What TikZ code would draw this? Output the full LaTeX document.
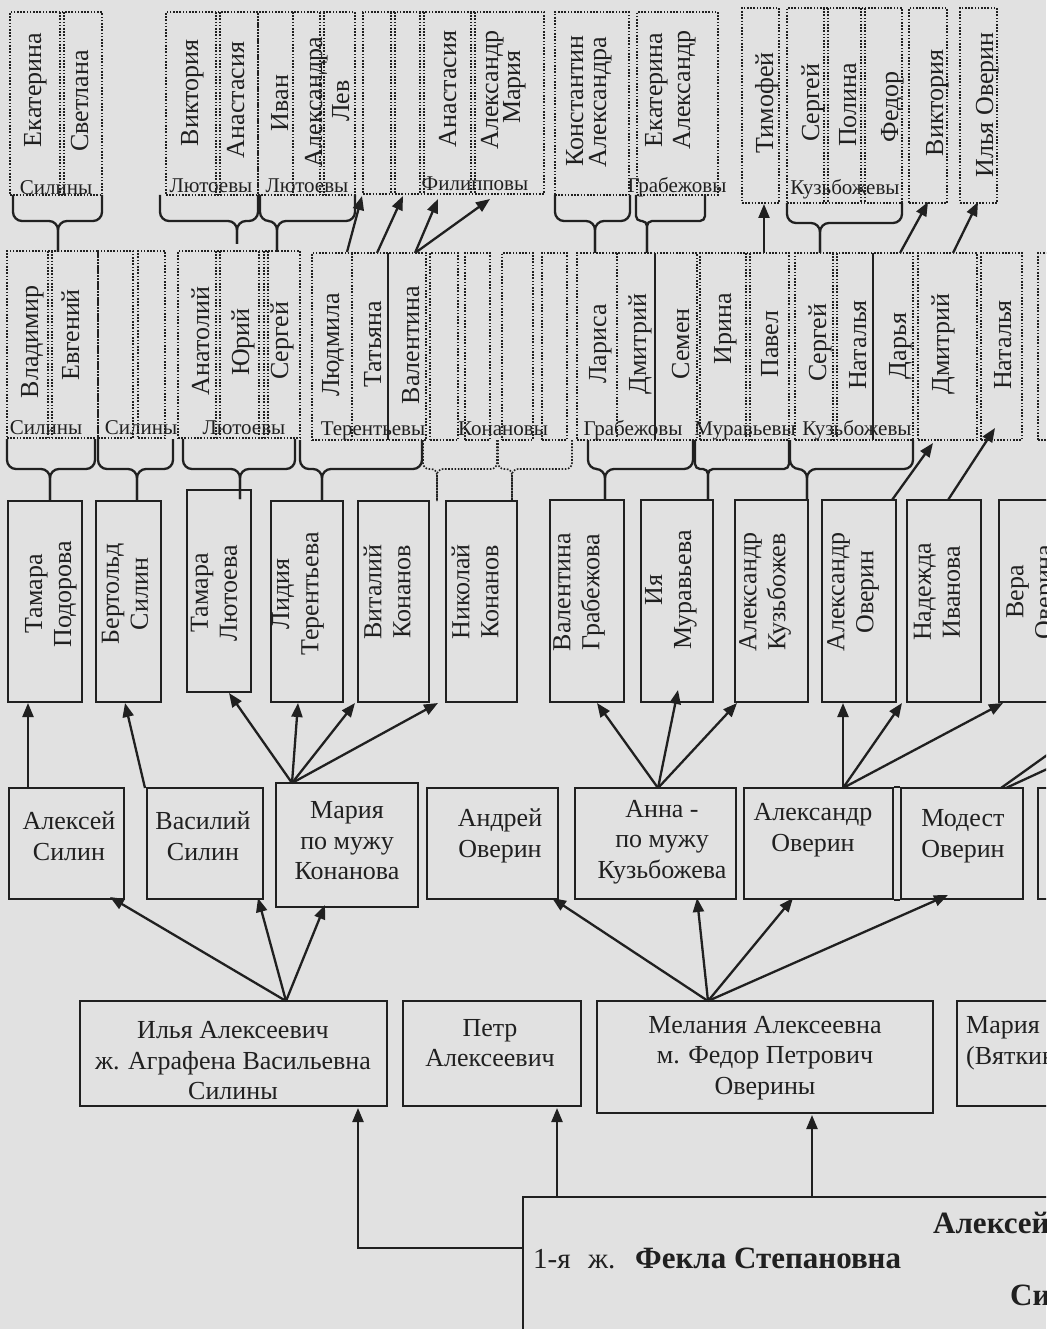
\documentclass[tikz,border=0pt]{standalone}
\usepackage{fontspec}
\setmainfont{Liberation Serif}
\usetikzlibrary{fit,arrows.meta}
\definecolor{inkc}{HTML}{202020}
\definecolor{paper}{HTML}{E1E1E1}
\newcounter{tn}
\newcommand\vnm[3]{\stepcounter{tn}\node[vname] (v\thetn) at (#1,#2) {#3};}
\newcommand\famlab[3]{\stepcounter{tn}\node[fam] (f\thetn) at (#1,#2) {#3};}
\newcommand\dgrp[5]{\node[dbox, fit={(#2,#3)(#4,#5)}] (#1) {};}
\newcommand\sbx[5]{\node[sbox, fit={(#2,#3)(#4,#5)}] (#1) {};}
\newcommand\sdiv[3]{\draw[dline] (#1,#2) -- (#1,#3);}
\newcommand\ddiv[3]{\draw[dline] (#1-1.9,#2) -- (#1-1.9,#3); \draw[dline] (#1+1.9,#2) -- (#1+1.9,#3);}
\newcommand\tdiv[3]{\draw[tline] (#1,#2) -- (#1,#3);}
\newcommand\cbr[7][brc]{\draw[#1] (#2,#5) -- (#2,#6) -- (#4,#6) -- (#4,#7); \draw[#1] (#3,#5) -- (#3,#6) -- (#4,#6) -- (#4,#7);}
\begin{document}
\begin{tikzpicture}[x=1pt,y=-1pt,
  sbox/.style={draw=inkc, line width=2.4pt, inner sep=0pt},
  sline/.style={draw=inkc, line width=2.4pt},
  dbox/.style={draw=inkc, line width=1.6pt, dash pattern=on 1.6pt off 1.6pt, inner sep=0pt},
  dline/.style={draw=inkc, line width=1.6pt, dash pattern=on 1.6pt off 1.6pt},
  tline/.style={draw=inkc, line width=1.2pt},
  vname/.style={rotate=90, inner sep=0pt, text=inkc, font=\fontsize{26}{29}\selectfont, text height=17pt, text depth=5pt},
  vname2/.style={rotate=90, inner sep=0pt, text=inkc, align=center, font=\fontsize{26}{29}\selectfont},
  hname/.style={inner sep=0pt, text=inkc, align=center, font=\fontsize{26}{30.5}\selectfont},
  fam/.style={anchor=base, inner sep=0pt, text=inkc, font=\fontsize{21}{22}\selectfont},
  bold/.style={anchor=base west, inner sep=0pt, text=inkc, font=\fontsize{31}{31}\selectfont\bfseries},
  brc/.style={draw=inkc, line width=2.3pt, rounded corners=9pt},
  brcs/.style={brc, rounded corners=5pt},
  dbrc/.style={draw=inkc, line width=1.6pt, dash pattern=on 1.6pt off 1.6pt, rounded corners=6pt},
  arr/.style={draw=inkc, line width=2.3pt, -{Triangle[length=14pt,width=11pt]}},
]
\useasboundingbox (0,0) rectangle (1046,1329);
\fill[paper] (0,0) rectangle (1046,1329);
\clip (0,0) rectangle (1046,1329);

% ---------- Row 1 ----------
\dgrp{r1a}{10}{12}{102}{195} \ddiv{62}{12}{195}
\vnm{35}{90}{Екатерина} \vnm{82}{101}{Светлана} \famlab{56}{195}{Силины}
\dgrp{r1b}{166}{12}{258}{195} \ddiv{218}{12}{195}
\vnm{192}{93}{Виктория} \vnm{238}{100}{Анастасия} \famlab{211}{193}{Лютоевы}
\dgrp{r1c}{258}{12}{355}{195} \sdiv{293}{12}{195} \ddiv{322}{12}{195}
\vnm{282}{103}{Иван} \vnm{316}{102}{Александра} \vnm{343}{101}{Лев} \famlab{307}{193}{Лютоевы}
\dgrp{r1d}{363}{12}{544}{194} \ddiv{393}{12}{194} \ddiv{422}{12}{194} \ddiv{473}{12}{194}
\vnm{450}{89}{Анастасия} \vnm{492}{90}{Александр} \vnm{514}{87}{Мария} \famlab{475}{191}{Филипповы}
\dgrp{r1e}{555}{12}{629}{195}
\vnm{577}{101}{Константин} \vnm{600}{102}{Александра}
\dgrp{r1f}{637}{12}{718}{195}
\vnm{656}{90}{Екатерина} \vnm{684}{90}{Александр} \famlab{677}{193}{Грабежовы}
\dgrp{r1g}{742}{8}{779}{203} \vnm{767}{103}{Тимофей}
\dgrp{r1h}{787}{8}{902}{203} \ddiv{826}{8}{203} \ddiv{863}{8}{203}
\vnm{813}{103}{Сергей} \vnm{850}{105}{Полина} \vnm{892}{107}{Федор} \famlab{845}{195}{Кузьбожевы}
\dgrp{r1i}{909}{8}{947}{203} \vnm{937}{103}{Виктория}
\dgrp{r1j}{960}{8}{997}{203} \vnm{987}{105}{Илья Оверин}

\cbr{13}{102}{58}{195}{221}{252}
\cbr{160}{258}{237}{195}{221}{244}
\cbr{260}{355}{277}{195}{221}{252}
\cbr{555}{630}{595}{195}{221}{253}
\cbr[brcs]{636}{705}{647}{195}{221}{253}
\cbr{787}{902}{820}{203}{223}{253}

% ---------- Row 2 ----------
\dgrp{r2a}{7}{251}{98}{438} \ddiv{50}{251}{438}
\vnm{32}{342}{Владимир} \vnm{73}{335}{Евгений} \famlab{46}{434}{Силины}
\dgrp{r2b}{98}{251}{133}{438} \dgrp{r2c}{138}{251}{165}{438} \famlab{141}{434}{Силины}
\dgrp{r2d}{178}{251}{300}{438} \ddiv{218}{251}{438} \sdiv{259}{251}{438} \ddiv{266}{251}{438}
\vnm{203}{341}{Анатолий} \vnm{243}{342}{Юрий} \vnm{282}{341}{Сергей} \famlab{244}{434}{Лютоевы}
\dgrp{r2e}{312}{253}{426}{440} \sdiv{352}{253}{440} \tdiv{388}{253}{440}
\vnm{333}{345}{Людмила} \vnm{375}{344}{Татьяна} \vnm{413}{345}{Валентина} \famlab{373}{435}{Терентьевы}
\dgrp{r2f}{430}{253}{458}{440} \dgrp{r2g}{465}{253}{490}{440} \dgrp{r2h}{502}{253}{533}{440} \dgrp{r2i}{542}{253}{567}{440}
\famlab{503}{435}{Конановы}
\dgrp{r2j}{577}{253}{697}{440} \sdiv{617}{253}{440} \tdiv{655}{253}{440}
\vnm{600}{344}{Лариса} \vnm{640}{344}{Дмитрий} \vnm{683}{344}{Семен} \famlab{633}{435}{Грабежовы}
\dgrp{r2k}{700}{253}{789}{440} \ddiv{748}{253}{440}
\vnm{725}{329}{Ирина} \vnm{772}{344}{Павел} \famlab{745}{435}{Муравьевы}
\dgrp{r2l}{795}{253}{913}{440} \ddiv{835}{253}{440} \tdiv{873}{253}{440}
\vnm{820}{343}{Сергей} \vnm{860}{345}{Наталья} \vnm{900}{346}{Дарья} \famlab{857}{435}{Кузьбожевы}
\dgrp{r2m}{918}{253}{977}{440} \vnm{943}{344}{Дмитрий}
\dgrp{r2n}{981}{253}{1022}{440} \vnm{1005}{345}{Наталья}
\dgrp{r2o}{1038}{253}{1095}{440}

\cbr{7}{95}{50}{439}{469}{501}
\cbr{98}{173}{137}{439}{469}{501}
\cbr{183}{295}{240}{439}{469}{499}
\cbr{300}{422}{322}{440}{469}{501}
\cbr[dbrc]{423}{497}{437}{440}{469}{501}
\cbr[dbrc]{498}{572}{512}{440}{469}{501}
\cbr{588}{693}{605}{440}{469}{500}
\cbr[brcs]{695}{789}{708}{440}{469}{500}
\cbr{790}{913}{807}{440}{469}{500}

% ---------- Row 3 ----------
\sbx{tpod}{8}{501}{82}{702}    \node[vname2] (t1) at (51,594) {Тамара\\Подорова};
\sbx{bsil}{96}{501}{161}{702}  \node[vname2] (t2) at (125,594) {Бертольд\\Силин};
\sbx{tlyu}{187}{490}{251}{692} \node[vname2] (t3) at (214,593) {Тамара\\Лютоева};
\sbx{lter}{271}{501}{343}{702} \node[vname2] (t4) at (298,594) {Лидия\\Терентьева};
\sbx{vkon}{358}{501}{429}{702} \node[vname2] (t5) at (387,592) {Виталий\\Конанов};
\sbx{nkon}{446}{501}{517}{702} \node[vname2] (t6) at (475,592) {Николай\\Конанов};
\sbx{vgra}{550}{500}{624}{702} \node[vname2] (t7) at (579,592) {Валентина\\Грабежова};
\sbx{imur}{641}{500}{713}{702} \node[vname2] (t8) at (671,590) {Ия\\Муравьева};
\sbx{akuz}{735}{500}{808}{702} \node[vname2] (t9) at (765,592) {Александр\\Кузьбожев};
\sbx{aov3}{822}{500}{896}{702} \node[vname2] (t10) at (853,592) {Александр\\Оверин};
\sbx{niva}{907}{500}{981}{702} \node[vname2] (t11) at (937,592) {Надежда\\Иванова};
\sbx{vove}{999}{500}{1072}{702} \node[vname2] (t12) at (1032,592) {Вера\\Оверина};

% ---------- Row 4 ----------
\sbx{asil}{9}{788}{124}{899}    \node[hname] (h1) at (69,836) {Алексей\\Силин};
\sbx{vsil}{147}{788}{263}{899}  \node[hname] (h2) at (203,836) {Василий\\Силин};
\sbx{mkon}{276}{783}{418}{907}  \node[hname] (h3) at (347,841) {Мария\\по мужу\\Конанова};
\sbx{andr}{427}{788}{558}{899}  \node[hname] (h4) at (500,836) {Андрей\\Оверин};
\sbx{anna}{575}{788}{736}{899}  \node[hname] (h5) at (662,842) {Анна -\\по мужу\\Кузьбожева};
\sbx{aov4}{744}{788}{893}{899}  \node[hname] (h6) at (813,830) {Александр\\Оверин};
\sbx{mode}{901}{788}{1023}{899} \node[hname] (h7) at (963,836) {Модест\\Оверин};
\draw[sline] (aov4.north east) -- (mode.north west);
\draw[sline] (aov4.south east) -- (mode.south west);
\sbx{r4x}{1038}{788}{1100}{899}

% ---------- Row 5 ----------
\sbx{ilya}{80}{1001}{387}{1106}  \node[hname] (h8) at (233,1061) {Илья Алексеевич\\ж. Аграфена Васильевна\\Силины};
\sbx{petr}{403}{1001}{581}{1106} \node[hname] (h9) at (490,1043) {Петр\\Алексеевич};
\sbx{mela}{597}{1001}{933}{1113} \node[hname] (h10) at (765,1058) {Мелания Алексеевна\\м. Федор Петрович\\Оверины};
\sbx{mvya}{957}{1001}{1130}{1106} \node[hname, anchor=west, align=left] (h11) at (966,1043) {Мария\\(Вяткина)};

% ---------- Bottom ----------
\sbx{fekl}{523}{1197}{1130}{1400}
\node[anchor=base west, inner sep=0pt, text=inkc, font=\fontsize{29}{30}\selectfont] (h12) at (533,1268) {1-я\hspace{0.6em}ж.};
\node[bold] (h13) at (635,1268) {Фекла Степановна};
\node[bold] (h14) at (933,1233) {Алексей};
\node[bold] (h15) at (1010,1305) {Силины};

% ---------- Arrows: row 2 -> row 1 ----------
\coordinate (a1s) at (347,252); \coordinate (a1e) at (362,196);
\coordinate (a2s) at (377,253); \coordinate (a2e) at (403,196);
\coordinate (a3s) at (415,253); \coordinate (a3e) at (438,199); \coordinate (a4e) at (490,199);
\coordinate (a5s) at (764,253); \coordinate (a5e) at (764,204);
\coordinate (a6s) at (900,253); \coordinate (a6e) at (928,202);
\coordinate (a7s) at (953,253); \coordinate (a7e) at (978,202);
\draw[arr] (a1s) -- (a1e);
\draw[arr] (a2s) -- (a2e);
\draw[arr] (a3s) -- (a3e);
\draw[arr] (a3s) -- (a4e);
\draw[arr] (a5s) -- (a5e);
\draw[arr] (a6s) -- (a6e);
\draw[arr] (a7s) -- (a7e);

% row 3 -> row 2
\coordinate (b1s) at (892,500); \coordinate (b1e) at (933,443);
\coordinate (b2s) at (948,500); \coordinate (b2e) at (995,428);
\draw[arr] (b1s) -- (b1e);
\draw[arr] (b2s) -- (b2e);

% row 4 -> row 3
\coordinate (c1s) at (28,788);  \coordinate (c1e) at (28,703);
\coordinate (c2s) at (145,788); \coordinate (c2e) at (125,703);
\coordinate (c3s) at (292,783);
\coordinate (c3a) at (229,693); \coordinate (c3b) at (298,703); \coordinate (c3c) at (355,703); \coordinate (c3d) at (438,703);
\coordinate (c4s) at (658,788);
\coordinate (c4a) at (597,703); \coordinate (c4b) at (678,690); \coordinate (c4c) at (737,703);
\coordinate (c5s) at (843,788);
\coordinate (c5a) at (843,703); \coordinate (c5b) at (902,703); \coordinate (c5c) at (1003,703);
\coordinate (c6s) at (1001,788); \coordinate (c6t) at (1006,788);
\coordinate (c6a) at (1110,710); \coordinate (c6b) at (1110,740);
\draw[arr] (c1s) -- (c1e);
\draw[arr] (c2s) -- (c2e);
\foreach \t in {c3a,c3b,c3c,c3d} \draw[arr] (c3s) -- (\t);
\foreach \t in {c4a,c4b,c4c} \draw[arr] (c4s) -- (\t);
\foreach \t in {c5a,c5b,c5c} \draw[arr] (c5s) -- (\t);
\draw[arr] (c6s) -- (c6a);
\draw[arr] (c6t) -- (c6b);

% row 5 -> row 4
\coordinate (d1s) at (286,1001);
\coordinate (d1a) at (110,897); \coordinate (d1b) at (258,898); \coordinate (d1c) at (325,905);
\coordinate (d2s) at (708,1001);
\coordinate (d2a) at (552,898); \coordinate (d2b) at (697,898); \coordinate (d2c) at (793,898); \coordinate (d2d) at (948,895);
\foreach \t in {d1a,d1b,d1c} \draw[arr] (d1s) -- (\t);
\foreach \t in {d2a,d2b,d2c,d2d} \draw[arr] (d2s) -- (\t);

% bottom -> row 5
\coordinate (e1s) at (523,1248); \coordinate (e1e) at (358,1108);
\coordinate (e2s) at (557,1197); \coordinate (e2e) at (557,1108);
\coordinate (e3s) at (812,1197); \coordinate (e3e) at (812,1115);
\draw[arr] (e1s) -| (e1e);
\draw[arr] (e2s) -- (e2e);
\draw[arr] (e3s) -- (e3e);
\end{tikzpicture}
\end{document}
